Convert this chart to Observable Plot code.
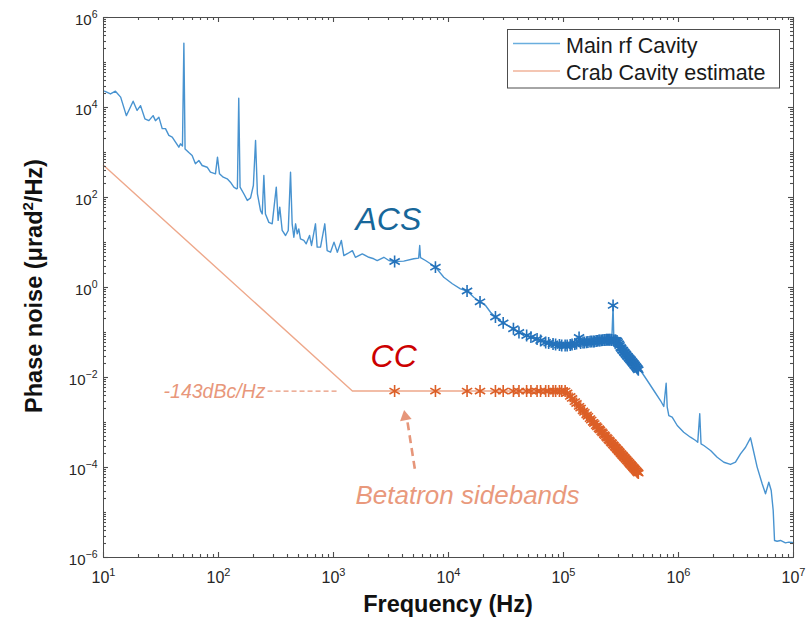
<!DOCTYPE html>
<html><head><meta charset="utf-8">
<script src="https://cdn.jsdelivr.net/npm/d3@7"></script>
<script src="https://cdn.jsdelivr.net/npm/@observablehq/plot@0.6"></script>
<style>
body{margin:0;background:#fff;font-family:"Liberation Sans",Arial,Helvetica,sans-serif;}
#wrap{position:relative;width:806px;height:619px;}
</style></head>
<body><div id="wrap"></div>
<script>
// ---------- DATA ----------
const seriesNames = ["Main rf Cavity", "Crab Cavity estimate"];

// Main rf cavity spectrum, 10 Hz .. 3 kHz  [Hz, µrad²/Hz]
const mainRfLow = [
  [10.2,2.3e4],[11.5,2.0e4],[12.7,2.3e4],[14.1,1.7e4],[15.8,6.6e3],[16.6,8.6e3],[18.1,1.38e4],
  [19.6,8.6e3],[21.0,1.1e4],[22.9,5.6e3],[24.8,5.1e3],[27.0,6.6e3],[28.3,5.1e3],[30.3,6.1e3],
  [32.4,3.4e3],[34.6,3.4e3],[37.0,2.4e3],[39.6,2.2e3],[42.3,1.7e3],[45.2,1.31e3],[46.7,1.56e3],
  [48.6,1.4e3],[50,2.7e5],[51.2,1.2e3],[55.2,1.0e3],[59,857],[63,560],[67.5,664],[72.1,514],
  [79.7,471],[85.1,365],[94.1,336],[98,790],[102,336],[110,283],[119,260],[127,219],[136,170],
  [143.5,156],[146,160],[150,1.6e4],[154,170],[166,121],[178,86],[190,98],[201,185],[210,1.85e3],
  [218,121],[232,51],[240,43],[248,308],[256,43],[274,28],[293,26],[318,170],[330,31],[341,61],
  [358,18.5],[383,14.3],[404,18.5],[423,365],[437,26],[452,13.1],[468,26],[484,15.6],[499,20],
  [516,12.1],[552,11.1],[579,9.35],[619,14.3],[644,8.6],[697,26],[721,7.9],[771,7.9],[840,26],
  [881,6.6],[942,6.1],[1010,10.2],[1080,6.1],[1170,11.1],[1230,5.1],[1330,5.7],[1460,6.6],
  [1550,4.7],[1780,5.6],[2030,4.7],[2240,4.35],[2400,3.98],[2740,4.7],[3030,3.98]
];
// Main rf cavity, extra points between the sideband markers
const mainRfMid = [
  [4080,3.85],[4990,4.35],[5500,4.5],[5620,8.6],[5710,4.6],[6310,3.98],[6970,3.37],
  [9100,1.69],[10800,1.21],[12700,0.936],[16600,0.608],[21000,0.398],[23200,0.282]
];
// Main rf cavity, above 450 kHz
const mainRfHigh = [
  [4.68e5,0.0143],[5.35e5,8.58e-3],[6.10e5,5.14e-3],[6.97e5,3.08e-3],[7.45e5,2.27e-3],[7.81e5,7.47e-3],
  [7.98e5,2.19e-3],[8.24e5,1.43e-3],[8.81e5,1.31e-3],[9.75e5,8.58e-4],[1.11e6,6.08e-4],[1.27e6,4.71e-4],
  [1.41e6,3.98e-4],[1.47e6,3.65e-4],[1.53e6,1.56e-3],[1.57e6,3.36e-4],[1.66e6,3.08e-4],[1.90e6,2.39e-4],
  [2.17e6,1.69e-4],[2.48e6,1.31e-4],[2.83e6,1.17e-4],[3.13e6,1.31e-4],[3.46e6,2.01e-4],[3.83e6,2.82e-4],
  [4.23e6,4.57e-4],[4.38e6,3.08e-4],[4.83e6,1.02e-4],[5.34e6,4.34e-5],[5.71e6,2.61e-5],[6.10e6,4.71e-5],
  [6.40e6,3.08e-5],[6.66e6,1.11e-5],[6.84e6,2.39e-6],[7.20e6,2.30e-6],[7.71e6,2.39e-6],[8.51e6,2.12e-6],
  [9.10e6,2.19e-6],[9.73e6,2.16e-6],[1e7,2.1e-6]
];
// Betatron sideband frequencies (Hz) – marker positions
const sidebandFreqs = [3400,7700,14500,18800,25600,29900,36700,41000,47800,52100,58900,63200,70000,74300,
  81100,85400,92200,96500,103300,107600,114400,118700,125500,129800,136600,140900,147700,152000,158800,
  163100,169900,174200,181000,185300,192100,196400,203200,207500,214300,218600,225400,229700,236500,
  240800,247600,251900,258700,263000,269800,274100,280900,285200,292000,296300,303100,307400,314200,
  318500,325300,329600,336400,340700,347500,351800,358600,362900,369700,374000,380800,385100,391900,
  396200,403000,407300,414100,418400,425200,429500,436300,440600,447400];
// Main rf cavity noise at the sideband frequencies
const mainRfAtSidebands = [3.78,2.83,0.836,0.481,0.221,0.163,0.121,0.100,0.0858,0.0787,0.0718,0.0664,0.060,
  0.0584,0.0555,0.054,0.0527,0.0514,0.0514,0.0514,0.0527,0.054,0.0555,0.057,0.0774,0.0584,0.060,0.060,
  0.0608,0.0615,0.0625,0.063,0.063,0.063,0.0647,0.065,0.0664,0.0664,0.067,0.0675,0.068,0.068,0.0689,
  0.0689,0.0689,0.0689,0.0689,0.068,0.40,0.0664,0.0664,0.0664,0.0647,0.060,0.0555,0.0514,0.0464,0.0441,
  0.0408,0.0398,0.0369,0.0354,0.0333,0.0319,0.030,0.029,0.0274,0.0264,0.0251,0.0242,0.0229,0.0221,0.021,
  0.0203,0.0192,0.0185,0.0176,0.0170,0.0162,0.0156,0.0148];
// Crab cavity estimate at the sideband frequencies
const crabAtSidebands = [5.0e-3,5.0e-3,5.0e-3,5.0e-3,5.0e-3,5.0e-3,5.0e-3,5.0e-3,5.0e-3,5.0e-3,5.0e-3,
  5.0e-3,5.0e-3,5.0e-3,5.0e-3,5.0e-3,5.0e-3,5.0e-3,5.0e-3,
  4.53e-3,3.80e-3,3.42e-3,2.91e-3,2.64e-3,2.28e-3,2.09e-3,1.82e-3,1.68e-3,1.48e-3,1.37e-3,1.22e-3,1.13e-3,
  1.01e-3,9.46e-4,8.53e-4,8.01e-4,7.26e-4,6.84e-4,6.24e-4,5.89e-4,5.40e-4,5.11e-4,4.69e-4,4.46e-4,4.11e-4,
  3.91e-4,3.62e-4,3.46e-4,3.21e-4,3.07e-4,2.86e-4,2.74e-4,2.56e-4,2.45e-4,2.30e-4,2.20e-4,2.07e-4,1.99e-4,
  1.87e-4,1.80e-4,1.70e-4,1.64e-4,1.55e-4,1.50e-4,1.42e-4,1.37e-4,1.30e-4,1.25e-4,1.19e-4,1.15e-4,1.10e-4,
  1.06e-4,1.01e-4,9.8e-5,9.35e-5,9.08e-5,8.67e-5,8.41e-5,8.04e-5,7.82e-5,7.48e-5];
// Crab cavity estimate below the sidebands (low-frequency slope and knee)
const crabCorners = [[10,520],[1460,5.0e-3]];

// Tick labels
const xTickValues = [1e1,1e2,1e3,1e4,1e5,1e6,1e7];
const yTickValues = [1e-6,1e-4,1e-2,1e0,1e2,1e4,1e6];

// Annotations
const annoLabels = [
  {text:"ACS", f:1553, v:32.3, color:"#17679a", size:32, anchor:"start"},
  {text:"CC", f:2099, v:0.0296, color:"#cc0000", size:32, anchor:"start"},
  {text:"-143dBc/Hz", f:256, v:4.93e-3, color:"#e8977b", size:19.5, anchor:"end"},
  {text:"Betatron sidebands", f:1553, v:2.42e-5, color:"#e9997c", size:26, anchor:"start"}
];
const leader = [{f1:267, f2:1104, v:5.0e-3}];
const arrowShaft = [{f1:5093, v1:9.36e-5, f2:4395, v2:1.05e-3}];
const arrowHead = [{f:4207, v:1.34e-3}];

if (sidebandFreqs.length !== mainRfAtSidebands.length || sidebandFreqs.length !== crabAtSidebands.length)
  throw new Error("length mismatch");

// ---------- BUILD ----------
const W = 806, H = 619, mL = 103, mR = 13, mT = 17, mB = 62;

const blueMarks = sidebandFreqs.map((f, i) => ({f, v: mainRfAtSidebands[i]}));
const crabMarks = sidebandFreqs.map((f, i) => ({f, v: crabAtSidebands[i]}));
const blueLine = [...mainRfLow, ...mainRfMid, ...blueMarks.map(d => [d.f, d.v]), ...mainRfHigh]
  .sort((a, b) => a[0] - b[0]);
const crabLine = [...crabCorners, ...crabMarks.map(d => [d.f, d.v])];

const xMinor = [], yMinor = [];
for (let e = 1; e <= 6; e++) for (let k = 2; k <= 9; k++) xMinor.push(k * 10 ** e);
for (let e = -6; e <= 5; e++) {
  for (let k = 2; k <= 9; k++) yMinor.push(k * 10 ** e);
  if (e % 2 !== 0) yMinor.push(10 ** e);
}

const axisCol = "#4d4d4d";
const sup = d => { const e = Math.round(Math.log10(d)); return "10^" + (e < 0 ? "\u2212" + (-e) : e); };

const chart = Plot.plot({
  width: W, height: H,
  marginLeft: mL, marginRight: mR, marginTop: mT, marginBottom: mB,
  style: {fontFamily: '"Liberation Sans", Arial, Helvetica, sans-serif', fontSize: "16px", color: "#262626", background: "#fff", overflow: "visible"},
  x: {type: "log", domain: [10, 1e7]},
  y: {type: "log", domain: [1e-6, 1e6]},
  marks: [
    Plot.axisX({ticks: xTickValues, tickSize: 0, tickPadding: 14.5, tickFormat: sup, label: null, fontSize: 16}),
    Plot.axisY({ticks: yTickValues, tickSize: 0, tickPadding: 6, tickFormat: sup, label: null, fontSize: 15, dy: 2.6}),
    // crab cavity estimate
    Plot.line(crabLine, {x: d => d[0], y: d => d[1], stroke: "#eea88b", strokeWidth: 1.4}),
    Plot.dot(crabMarks, {x: "f", y: "v", symbol: "asterisk", r: 5.6, stroke: "#dc5f27", strokeWidth: 1.6}),
    // main rf cavity
    Plot.line(blueLine, {x: d => d[0], y: d => d[1], stroke: "#4893d0", strokeWidth: 1.4}),
    Plot.dot(blueMarks, {x: "f", y: "v", symbol: "asterisk", r: 5.6, stroke: "#2472bb", strokeWidth: 1.6}),
    // annotations
    Plot.link(leader, {x1: "f1", x2: "f2", y1: "v", y2: "v", stroke: "#e8977b", strokeWidth: 1.2, strokeDasharray: "5,3"}),
    Plot.link(arrowShaft, {x1: "f1", y1: "v1", x2: "f2", y2: "v2", stroke: "#e6967a", strokeWidth: 2.6, strokeDasharray: "8,5"}),
    Plot.dot(arrowHead, {x: "f", y: "v", symbol: "triangle2", r: 5.6, fill: "#e6967a", stroke: "none", rotate: -10}),
    ...annoLabels.map(a => Plot.text([a], {x: "f", y: "v", text: "text", fill: a.color, fontSize: a.size,
      fontStyle: "italic", textAnchor: a.anchor, lineAnchor: "middle"})),
    Plot.frame({stroke: axisCol, strokeWidth: 1})
  ]
});

const NS = "http://www.w3.org/2000/svg";
const svg = d3.select(chart);
const sx = chart.scale("x"), sy = chart.scale("y");
const x0 = mL, x1 = W - mR, y0 = mT, y1 = H - mB;

// inward tick marks on all four sides, positioned through the chart's own scales
const tg = svg.append("g").attr("stroke", axisCol).attr("stroke-width", 1.1);
const addX = (vals, L) => vals.forEach(v => {
  const px = Math.round(sx.apply(v)) + 0.5;
  tg.append("line").attr("x1", px).attr("x2", px).attr("y1", y1).attr("y2", y1 - L);
  tg.append("line").attr("x1", px).attr("x2", px).attr("y1", y0).attr("y2", y0 + L);
});
const addY = (vals, L) => vals.forEach(v => {
  const py = Math.round(sy.apply(v)) + 0.5;
  tg.append("line").attr("y1", py).attr("y2", py).attr("x1", x0).attr("x2", x0 + L);
  tg.append("line").attr("y1", py).attr("y2", py).attr("x1", x1).attr("x2", x1 - L);
});
addX(xTickValues, 5); addX(xMinor, 3);
addY(yTickValues, 5); addY(yMinor, 3);

// superscript tick labels
chart.querySelectorAll("text").forEach(t => {
  const s = t.textContent;
  if (!s.startsWith("10^")) return;
  const isY = t.closest('[aria-label="y-axis tick label"]') !== null;
  const [base, exp] = s.split("^");
  t.textContent = "";
  const b = document.createElementNS(NS, "tspan"); b.textContent = base; t.appendChild(b);
  const e = document.createElementNS(NS, "tspan"); e.textContent = exp;
  e.setAttribute("dy", "-7"); e.setAttribute("font-size", isY ? "10.5" : "11"); t.appendChild(e);
});

// axis titles
svg.append("text").attr("x", (mL + W - mR) / 2).attr("y", 612).attr("text-anchor", "middle")
  .attr("font-size", 23.5).attr("font-weight", "bold").attr("fill", "#111").text("Frequency (Hz)");
const yt = svg.append("text").attr("transform", "translate(42,286) rotate(-90)").attr("text-anchor", "middle")
  .attr("font-size", 23.5).attr("font-weight", "bold").attr("fill", "#111");
yt.append("tspan").text("Phase noise (\u03bcrad");
yt.append("tspan").attr("dy", -9).attr("font-size", 15).text("2");
yt.append("tspan").attr("dy", 9).text("/Hz)");

// legend
const lg = svg.append("g");
lg.append("rect").attr("x", 507.5).attr("y", 29.5).attr("width", 272).attr("height", 58.5)
  .attr("fill", "#fff").attr("stroke", axisCol);
const legendColors = ["#6aaede", "#f0b39a"];
seriesNames.forEach((name, i) => {
  const yy = 43.5 + i * 27.5;
  lg.append("line").attr("x1", 513).attr("x2", 560).attr("y1", yy).attr("y2", yy)
    .attr("stroke", legendColors[i]).attr("stroke-width", 1.4);
  lg.append("text").attr("x", 566).attr("y", 53 + i * 27.3).attr("text-anchor", "start")
    .attr("font-size", 21.5).attr("fill", "#1a1a1a").text(name);
});

document.getElementById("wrap").appendChild(chart);
</script>
</body></html>
